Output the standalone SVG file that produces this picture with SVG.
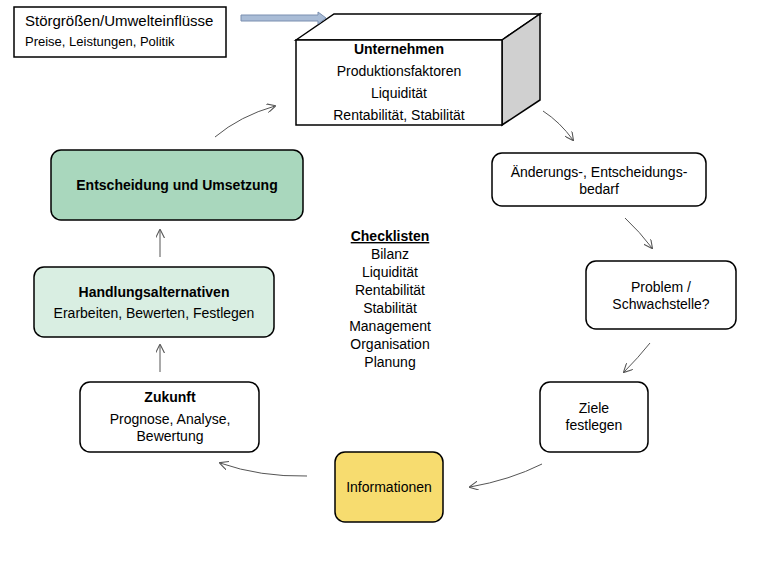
<svg xmlns="http://www.w3.org/2000/svg" width="780" height="563" viewBox="0 0 780 563">
<defs>
<style>
text{font-family:"Liberation Sans",Arial,sans-serif;font-size:14px;fill:#000;text-anchor:middle}
.b{font-weight:bold}
.n{stroke:#000;stroke-width:1.5}
.c{fill:none;stroke:#555;stroke-width:1;marker-end:url(#ah)}
</style>
<marker id="ah" viewBox="0 0 10 10" refX="9" refY="5" markerWidth="9" markerHeight="9" orient="auto" markerUnits="userSpaceOnUse">
<path d="M0,0 L10,5 L0,10" fill="none" stroke="#555" stroke-width="1.2"/>
</marker>
</defs>
<rect width="780" height="563" fill="#fff"/>
<g id="stoer">
<rect x="14" y="7" width="212" height="50" fill="#fff" class="n"/>
<text x="25" y="26" style="text-anchor:start;font-size:15px">Störgrößen/Umwelteinflüsse</text>
<text x="25" y="46" style="text-anchor:start;font-size:13px">Preise, Leistungen, Politik</text>
</g>
<g id="unternehmen">
<polygon points="296,40 334,14 540,14 502,40" fill="#fff" class="n"/>
<polygon points="502,40 540,14 540,100 502,125" fill="#d0d0d0" class="n"/>
<rect x="296" y="40" width="206" height="85" fill="#fff" class="n"/>
<text x="399" y="54" class="b">Unternehmen</text>
<text x="399" y="76">Produktionsfaktoren</text>
<text x="399" y="98">Liquidität</text>
<text x="399" y="120">Rentabilität, Stabilität</text>
</g>
<g id="aenderung">
<rect x="492" y="153" width="214" height="53" rx="10" fill="#fff" class="n"/>
<text x="599" y="177">Änderungs-, Entscheidungs-</text>
<text x="599" y="194">bedarf</text>
</g>
<g id="problem">
<rect x="586" y="261" width="150" height="68" rx="10" fill="#fff" class="n"/>
<text x="661" y="292">Problem /</text>
<text x="661" y="309">Schwachstelle?</text>
</g>
<g id="ziele">
<rect x="540" y="382" width="108" height="70" rx="10" fill="#fff" class="n"/>
<text x="594" y="413">Ziele</text>
<text x="594" y="430">festlegen</text>
</g>
<g id="informationen">
<rect x="335" y="452" width="108" height="70" rx="10" fill="#f7dc6f" class="n"/>
<text x="389" y="492">Informationen</text>
</g>
<g id="zukunft">
<rect x="80" y="382" width="179" height="70" rx="10" fill="#fff" class="n"/>
<text x="170" y="402" class="b">Zukunft</text>
<text x="170" y="424">Prognose, Analyse,</text>
<text x="170" y="441">Bewertung</text>
</g>
<g id="handlung">
<rect x="34" y="267" width="240" height="70" rx="10" fill="#d9eee2" class="n"/>
<text x="154" y="297" class="b">Handlungsalternativen</text>
<text x="154" y="318">Erarbeiten, Bewerten, Festlegen</text>
</g>
<g id="entscheidung">
<rect x="51" y="150" width="252" height="70" rx="10" fill="#a9d7bd" class="n"/>
<text x="177" y="190" class="b">Entscheidung und Umsetzung</text>
</g>
<g id="checklisten">
<text x="390" y="241" class="b" style="text-decoration:underline">Checklisten</text>
<text x="390" y="259">Bilanz</text>
<text x="390" y="277">Liquidität</text>
<text x="390" y="295">Rentabilität</text>
<text x="390" y="313">Stabilität</text>
<text x="390" y="331">Management</text>
<text x="390" y="349">Organisation</text>
<text x="390" y="367">Planung</text>
</g>
<g id="connectors">
<path d="M241,15 H318 V12 L326,18 L318,24 V21 H241 Z" fill="#a9bcd6" stroke="#7a8fb0" stroke-width="1"/>
<path class="c" d="M215,137 Q240,116 275,106"/>
<path class="c" d="M543,111 Q560,122 573,140"/>
<path class="c" d="M625,218 Q640,232 652,248"/>
<path class="c" d="M650,343 Q638,358 624,372"/>
<path class="c" d="M542,464 Q510,480 470,487"/>
<path class="c" d="M307,476 Q260,477 220,463"/>
<path class="c" d="M160,372 V345"/>
<path class="c" d="M160,257 V230"/>
</g>
</svg>
